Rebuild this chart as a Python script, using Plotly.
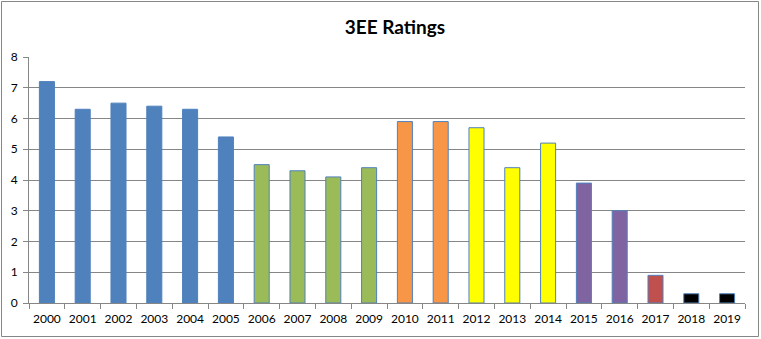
import plotly.graph_objects as go

years = [str(y) for y in range(2000, 2020)]
ratings = [7.2, 6.3, 6.5, 6.4, 6.3, 5.4, 4.5, 4.3, 4.1, 4.4, 5.9, 5.9, 5.7, 4.4, 5.2, 3.9, 3.0, 0.9, 0.3, 0.3]
bar_colors = ["#4F81BD"] * 6 + ["#9BBB59"] * 4 + ["#F79646"] * 2 + ["#FFFF00"] * 3 + ["#8064A2"] * 2 + ["#C0504D"] + ["#000000"] * 2
y_ticks = [0, 1, 2, 3, 4, 5, 6, 7, 8]

W, H = 761, 339
L, R, T, B = 29, 745, 57, 303

fig = go.Figure(go.Bar(
    x=years, y=ratings,
    marker=dict(color=bar_colors, line=dict(color="#4F81BD", width=1)),
    width=0.42,
))

font = "Lato, 'Open Sans', sans-serif"
fig.update_layout(
    width=W, height=H,
    margin=dict(l=L, r=W - R, t=T, b=H - B, autoexpand=False),
    plot_bgcolor="white", paper_bgcolor="white",
    showlegend=False,
    font=dict(family=font, size=12, color="black"),
    title=dict(text="<b>3EE Ratings</b>", x=(395) / W, xanchor="center",
               y=1 - 27 / H, yanchor="middle", font=dict(size=19, family=font, color="black")),
    xaxis=dict(type="category", showgrid=False, showline=True, linecolor="#868686", linewidth=1,
               ticks="outside", tickson="boundaries", ticklen=5, tickcolor="#868686",
               tickangle=0, automargin=False, ticklabelstandoff=5,
               tickfont=dict(size=12), range=[-0.5, 19.5]),
    yaxis=dict(range=[0, 8], tickvals=y_ticks, showgrid=True, gridcolor="#868686", gridwidth=1,
               showline=True, linecolor="#868686", linewidth=1, ticks="outside", ticklen=5,
               tickcolor="#868686", zeroline=False, automargin=False, ticklabelstandoff=3,
               tickfont=dict(size=12)),
    shapes=[dict(type="rect", xref="paper", yref="paper",
                 x0=(1.5 - L) / (R - L), x1=(758.5 - L) / (R - L),
                 y0=(B - 336.5) / (B - T), y1=(B - 1.5) / (B - T),
                 line=dict(color="#868686", width=1), fillcolor="rgba(0,0,0,0)", layer="below")],
)

fig.write_html("out.html")
